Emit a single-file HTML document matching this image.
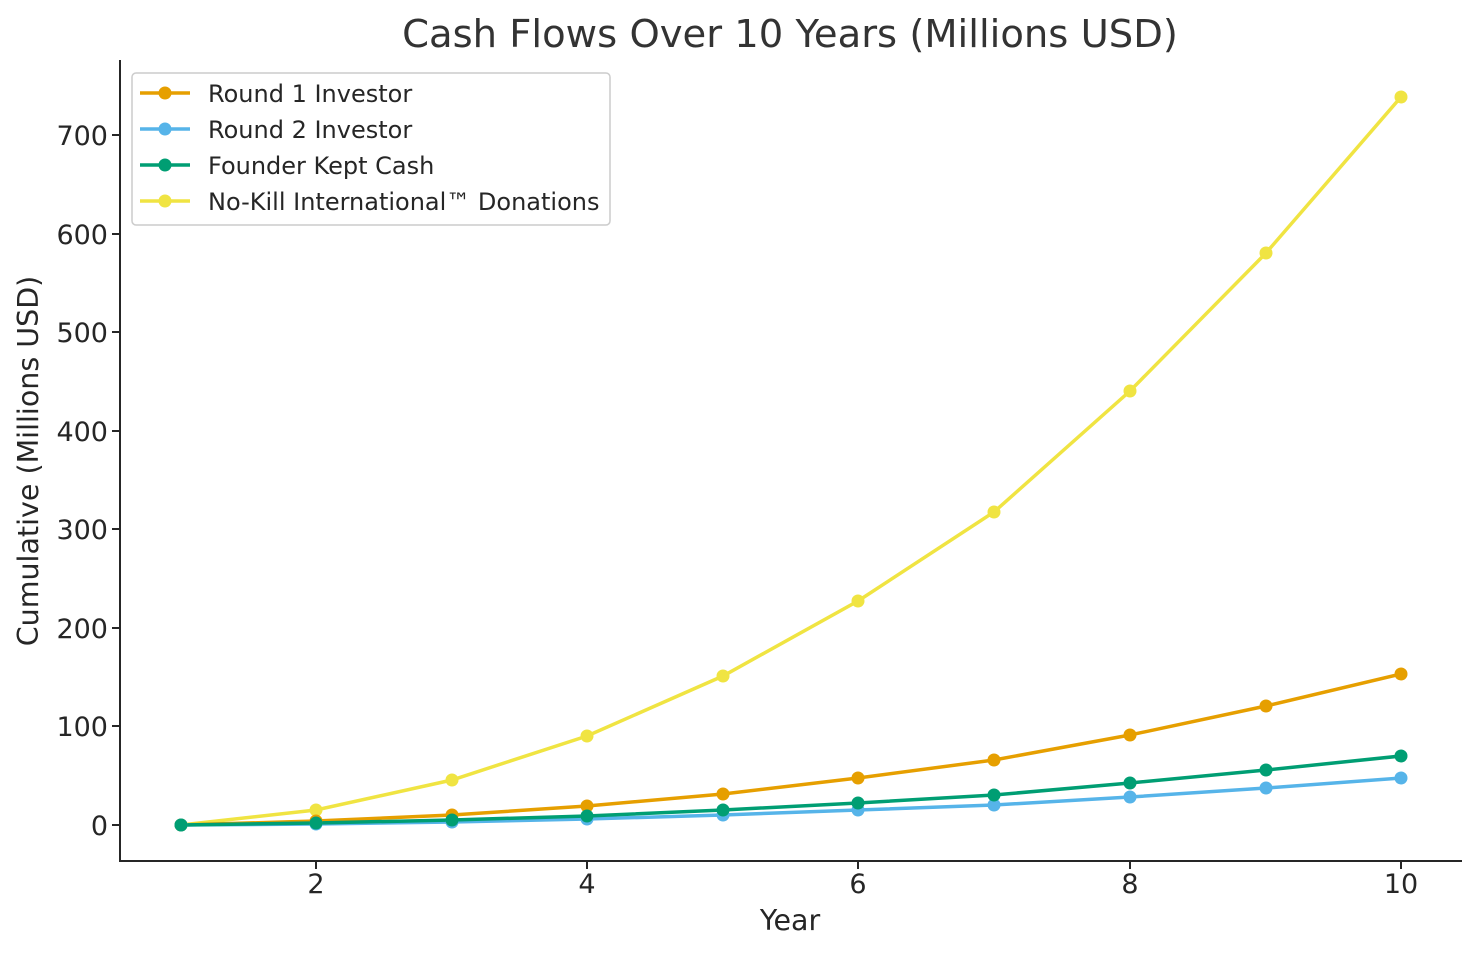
<!DOCTYPE html>
<html><head><meta charset="utf-8"><style>body{margin:0;background:#fff}svg{display:block}text{font-family:"DejaVu Sans","Liberation Sans",sans-serif;fill:#262626}</style></head>
<body>
<svg width="1479" height="954" viewBox="0 0 1479 954" xmlns="http://www.w3.org/2000/svg">
<text x="790" y="47" font-size="38.5" text-anchor="middle" style="fill:#333">Cash Flows Over 10 Years (Millions USD)</text>
<g stroke="#262626" stroke-width="2" fill="none">
<path d="M120 60 V861 H1462"/>
<path d="M316 861v8M587 861v8M858 861v8M1130 861v8M1401 861v8"/>
<path d="M120 825h-8M120 726h-8M120 628h-8M120 529h-8M120 431h-8M120 332h-8M120 234h-8M120 135h-8"/>
</g>
<g font-size="27" text-anchor="middle">
<text x="316" y="893">2</text><text x="587" y="893">4</text><text x="858" y="893">6</text><text x="1130" y="893">8</text><text x="1401" y="893">10</text>
</g>
<g font-size="27" text-anchor="end">
<text x="108" y="835">0</text><text x="108" y="736">100</text><text x="108" y="638">200</text><text x="108" y="539">300</text><text x="108" y="441">400</text><text x="108" y="342">500</text><text x="108" y="244">600</text><text x="108" y="145">700</text>
</g>
<text x="790" y="930" font-size="28.5" text-anchor="middle">Year</text>
<text transform="translate(38,461) rotate(-90)" font-size="28.5" text-anchor="middle">Cumulative (Millions USD)</text>
<g fill="none" stroke-width="3.5">
<polyline stroke="#F0E442" points="181,825 316,810 452,780 587,736 723,676 858,601 994,512 1130,391 1266,253 1401,97"/>
<polyline stroke="#E69F00" points="181,825 316,821 452,815 587,806 723,794 858,778 994,760 1130,735 1266,706 1401,674"/>
<polyline stroke="#56B4E9" points="181,825 316,824 452,822 587,819 723,815 858,810 994,805 1130,797 1266,788 1401,778"/>
<polyline stroke="#009E73" points="181,825 316,823 452,820 587,816 723,810 858,803 994,795 1130,783 1266,770 1401,756"/>
</g>
<g fill="#F0E442"><circle cx="181" cy="825" r="6.5"/><circle cx="316" cy="810" r="6.5"/><circle cx="452" cy="780" r="6.5"/><circle cx="587" cy="736" r="6.5"/><circle cx="723" cy="676" r="6.5"/><circle cx="858" cy="601" r="6.5"/><circle cx="994" cy="512" r="6.5"/><circle cx="1130" cy="391" r="6.5"/><circle cx="1266" cy="253" r="6.5"/><circle cx="1401" cy="97" r="6.5"/></g>
<g fill="#E69F00"><circle cx="181" cy="825" r="6.5"/><circle cx="316" cy="821" r="6.5"/><circle cx="452" cy="815" r="6.5"/><circle cx="587" cy="806" r="6.5"/><circle cx="723" cy="794" r="6.5"/><circle cx="858" cy="778" r="6.5"/><circle cx="994" cy="760" r="6.5"/><circle cx="1130" cy="735" r="6.5"/><circle cx="1266" cy="706" r="6.5"/><circle cx="1401" cy="674" r="6.5"/></g>
<g fill="#56B4E9"><circle cx="181" cy="825" r="6.5"/><circle cx="316" cy="824" r="6.5"/><circle cx="452" cy="822" r="6.5"/><circle cx="587" cy="819" r="6.5"/><circle cx="723" cy="815" r="6.5"/><circle cx="858" cy="810" r="6.5"/><circle cx="994" cy="805" r="6.5"/><circle cx="1130" cy="797" r="6.5"/><circle cx="1266" cy="788" r="6.5"/><circle cx="1401" cy="778" r="6.5"/></g>
<g fill="#009E73"><circle cx="181" cy="825" r="6.5"/><circle cx="316" cy="823" r="6.5"/><circle cx="452" cy="820" r="6.5"/><circle cx="587" cy="816" r="6.5"/><circle cx="723" cy="810" r="6.5"/><circle cx="858" cy="803" r="6.5"/><circle cx="994" cy="795" r="6.5"/><circle cx="1130" cy="783" r="6.5"/><circle cx="1266" cy="770" r="6.5"/><circle cx="1401" cy="756" r="6.5"/></g>
<rect x="132" y="73" width="478" height="152" rx="4" fill="#fff" stroke="#ccc" stroke-width="1.5"/>
<g stroke-width="3.5">
<line x1="140" y1="93" x2="190" y2="93" stroke="#E69F00"/><circle cx="165" cy="93" r="6.5" fill="#E69F00"/>
<line x1="140" y1="129" x2="190" y2="129" stroke="#56B4E9"/><circle cx="165" cy="129" r="6.5" fill="#56B4E9"/>
<line x1="140" y1="165" x2="190" y2="165" stroke="#009E73"/><circle cx="165" cy="165" r="6.5" fill="#009E73"/>
<line x1="140" y1="201" x2="190" y2="201" stroke="#F0E442"/><circle cx="165" cy="201" r="6.5" fill="#F0E442"/>
</g>
<g font-size="24" style="fill:#333">
<text x="208" y="102">Round 1 Investor</text>
<text x="208" y="138">Round 2 Investor</text>
<text x="208" y="174">Founder Kept Cash</text>
<text x="208" y="210">No-Kill International™ Donations</text>
</g>
</svg>
</body></html>
